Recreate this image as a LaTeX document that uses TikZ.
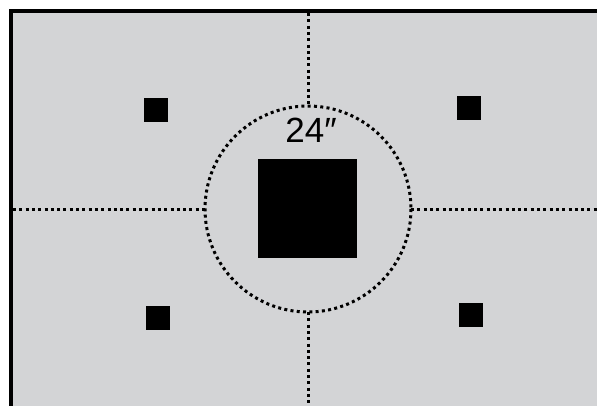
\documentclass[tikz,border=0pt]{standalone}
\usepackage{fontspec}
\setmainfont{Liberation Sans}
\definecolor{panel}{RGB}{211,212,214}
\begin{document}
\begin{tikzpicture}[x=1pt,y=-1pt,
  dotline/.style={line width=3pt,dash pattern=on 3pt off 3.3pt},
  smallsq/.style={fill=black,minimum size=24pt,inner sep=0pt,draw=none},
  bigsq/.style={fill=black,minimum size=99pt,inner sep=0pt,draw=none}]
\useasboundingbox (0,0) rectangle (597,405);
\begin{scope}
\clip (0,0) rectangle (597,405);
\draw[line width=4pt,fill=panel] (11,11) rectangle (610,420);
\end{scope}
\coordinate (c) at (308,209);
\coordinate (vt) at (308,13);
\coordinate (vb) at (308,405);
\coordinate (hl) at (13,209);
\coordinate (hr) at (597,209);
\draw[dotline] (vt) -- (308,106);
\draw[dotline] (308,312) -- (vb);
\draw[dotline] (hl) -- (205,209);
\draw[dotline] (411,209) -- (hr);
\draw[dotline] (c) circle[radius=103];
\node[smallsq] (tl) at (156,110) {};
\node[smallsq] (bl) at (158,318) {};
\node[smallsq] (tr) at (469,108) {};
\node[smallsq] (br) at (471,315) {};
\node[bigsq] (big) at (307.5,208.5) {};
\node[anchor=base,inner sep=0pt,font=\fontsize{35}{40}\selectfont] (lbl) at (311,142) {24″};
\end{tikzpicture}
\end{document}
